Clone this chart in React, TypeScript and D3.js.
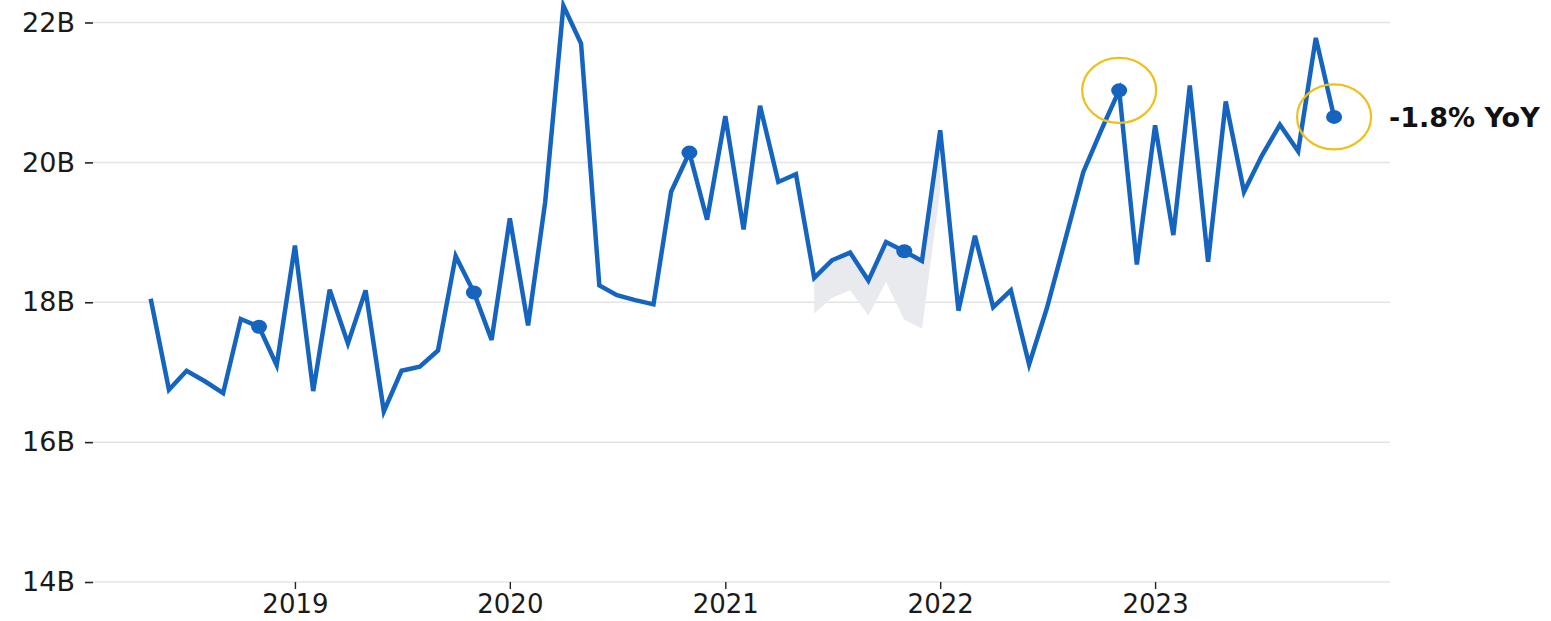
import React, { useEffect, useRef } from 'react';
import * as d3 from 'd3';

// monthly values in billions, May 2018 .. Nov 2023
const firstMonth = new Date(2018, 4, 1);
const values: number[] = [
  18.05, 16.75, 17.02, 16.87, 16.7, 17.76, 17.65, 17.1,
  18.81, 16.73, 18.18, 17.41, 18.17, 16.44, 17.02, 17.08, 17.31, 18.66, 18.14, 17.46,
  19.2, 17.67, 19.43, 22.24, 21.7, 18.24, 18.1, 18.03, 17.97, 19.58, 20.14, 19.18,
  20.66, 19.04, 20.81, 19.72, 19.83, 18.35, 18.6, 18.71, 18.31, 18.86, 18.73, 18.59,
  20.46, 17.88, 18.95, 17.93, 18.17, 17.11, 17.91, 18.88, 19.86, 20.45, 21.03, 18.54,
  20.53, 18.96, 21.1, 18.58, 20.87, 19.58, 20.09, 20.54, 20.16, 21.78, 20.65,
];

// lower edge of the grey band, Jun 2021 .. Jan 2022
const bandStart = new Date(2021, 5, 1);
const bandLow: number[] = [17.84, 18.06, 18.17, 17.81, 18.29, 17.75, 17.62, 19.6];

const yTicks = [14, 16, 18, 20, 22];
const yearTicks = [2019, 2020, 2021, 2022, 2023];
const highlighted = ['2022-11', '2023-11'];
const yoyLabel = '-1.8% YoY';

interface Point {
  date: Date;
  value: number;
}

export default function App() {
  const ref = useRef<SVGSVGElement>(null);

  useEffect(() => {
    const font = '"DejaVu Sans", sans-serif';

    const svg = d3.select(ref.current);
    svg.selectAll('*').remove();

    const data: Point[] = values.map((v, i) => ({
      date: d3.timeMonth.offset(firstMonth, i),
      value: v,
    }));
    const band = bandLow.map((low, i) => {
      const date = d3.timeMonth.offset(bandStart, i);
      const p = data.find((d) => +d.date === +date) as Point;
      return { date, low, high: p.value };
    });

    const xScale = d3
      .scaleTime()
      .domain([new Date(2018, 0, 23), new Date(2024, 1, 4)])
      .range([93, 1390]);

    const yScale = d3.scaleLinear().domain([14, 22]).range([582, 22.5]);

    // grid
    svg
      .append('g')
      .selectAll('line')
      .data(yTicks)
      .enter()
      .append('line')
      .attr('x1', xScale.range()[0])
      .attr('x2', xScale.range()[1])
      .attr('y1', (d) => yScale(d))
      .attr('y2', (d) => yScale(d))
      .attr('stroke', '#e4e4e4')
      .attr('stroke-width', 1.5);

    // y axis
    const yAxis = d3
      .axisLeft(yScale)
      .tickValues(yTicks)
      .tickSize(8)
      .tickPadding(10)
      .tickFormat((d) => `${d}B`);
    const gy = svg
      .append('g')
      .attr('transform', `translate(${xScale.range()[0]}, 0)`)
      .call(yAxis);
    gy.select('.domain').remove();
    gy.selectAll('line').attr('stroke', '#222').attr('stroke-width', 1.6);
    gy.selectAll('text')
      .attr('font-family', font)
      .attr('font-size', 27)
      .attr('fill', '#1a1a1a');

    // x axis
    const xAxis = d3
      .axisBottom(xScale)
      .tickValues(yearTicks.map((y) => new Date(y, 0, 1)))
      .tickSize(7)
      .tickPadding(6)
      .tickFormat((d) => d3.timeFormat('%Y')(d as Date));
    const gx = svg
      .append('g')
      .attr('transform', `translate(0, ${yScale(14)})`)
      .call(xAxis);
    gx.select('.domain').remove();
    gx.selectAll('line').attr('stroke', '#222').attr('stroke-width', 1.4);
    gx.selectAll('text')
      .attr('font-family', font)
      .attr('font-size', 26)
      .attr('fill', '#1a1a1a');

    // grey band
    const area = d3
      .area<{ date: Date; low: number; high: number }>()
      .x((d) => xScale(d.date))
      .y0((d) => yScale(d.low))
      .y1((d) => yScale(d.high));
    svg.append('path').datum(band).attr('d', area).attr('fill', '#e9eaee');

    // line
    const line = d3
      .line<Point>()
      .x((d) => xScale(d.date))
      .y((d) => yScale(d.value));
    svg
      .append('path')
      .datum(data)
      .attr('d', line)
      .attr('fill', 'none')
      .attr('stroke', '#1565c0')
      .attr('stroke-width', 4.5)
      .attr('stroke-linejoin', 'miter');

    // november markers
    const markers = data.filter((d) => d.date.getMonth() === 10);
    svg
      .append('g')
      .selectAll('ellipse')
      .data(markers)
      .enter()
      .append('ellipse')
      .attr('cx', (d) => xScale(d.date))
      .attr('cy', (d) => yScale(d.value))
      .attr('rx', 8)
      .attr('ry', 7)
      .attr('fill', '#1565c0');

    // yellow rings
    const fmt = d3.timeFormat('%Y-%m');
    const rings = data.filter((d) => highlighted.includes(fmt(d.date)));
    svg
      .append('g')
      .selectAll('ellipse')
      .data(rings)
      .enter()
      .append('ellipse')
      .attr('cx', (d) => xScale(d.date))
      .attr('cy', (d) => yScale(d.value))
      .attr('rx', 37)
      .attr('ry', 32.5)
      .attr('fill', 'none')
      .attr('stroke', '#eec11a')
      .attr('stroke-width', 2.2);

    const last = data[data.length - 1];
    svg
      .append('text')
      .attr('x', xScale(last.date) + 55)
      .attr('y', yScale(last.value))
      .attr('dy', '0.36em')
      .attr('font-family', font)
      .attr('font-weight', 'bold')
      .attr('font-size', 27)
      .attr('fill', '#111')
      .text(yoyLabel);
  }, []);

  return (
    <svg
      ref={ref}
      width={1551}
      height={621}
      style={{ position: 'absolute', left: 0, top: 0, background: '#fff' }}
    />
  );
}
